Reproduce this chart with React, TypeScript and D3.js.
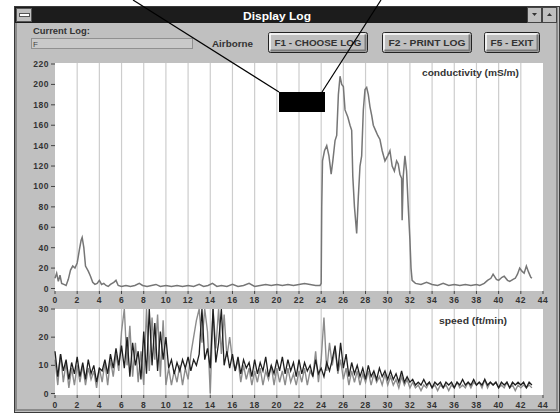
import React from "react";
import * as d3 from "d3";

// conductivity (mS/m) — [log position, value]
const conductivity: [number, number][] = [
  [0, 10], [0.15, 15], [0.3, 7], [0.45, 13], [0.6, 5], [0.8, 4], [1.0, 3], [1.2, 9], [1.4, 18],
  [1.6, 22], [1.8, 20], [2.0, 25], [2.2, 38], [2.35, 47], [2.45, 50], [2.6, 40], [2.75, 22],
  [3.0, 17], [3.2, 12], [3.4, 6], [3.6, 4], [3.8, 5], [4.0, 8], [4.2, 4], [4.4, 5], [4.6, 3],
  [4.8, 2], [5.0, 4], [5.3, 6], [5.5, 8], [5.7, 3], [6.0, 2], [6.4, 3], [6.8, 2], [7.2, 3],
  [7.6, 5], [7.9, 3], [8.3, 2], [8.7, 3], [9.1, 4], [9.5, 2], [10.0, 3], [10.5, 2], [11.0, 3],
  [11.5, 2], [12.0, 3], [12.5, 2], [13.0, 4], [13.4, 2], [13.8, 3], [14.2, 5], [14.6, 2],
  [15.0, 3], [15.5, 2], [16.0, 4], [16.5, 2], [17.0, 3], [17.5, 5], [18.0, 2], [18.5, 3],
  [19.0, 4], [19.5, 3], [20.0, 4], [20.5, 3], [21.0, 4], [21.5, 3], [22.0, 4], [22.5, 5],
  [23.0, 4], [23.5, 3], [23.9, 3], [24.0, 5], [24.05, 80], [24.12, 125], [24.3, 135],
  [24.5, 140], [24.7, 130], [24.9, 112], [25.05, 125], [25.25, 145], [25.4, 150], [25.55, 190],
  [25.7, 208], [25.85, 200], [26.0, 198], [26.15, 175], [26.4, 168], [26.6, 160], [26.75, 155],
  [26.85, 110], [27.0, 80], [27.2, 54], [27.35, 90], [27.5, 120], [27.65, 130], [27.8, 175],
  [27.95, 195], [28.1, 197], [28.25, 190], [28.4, 178], [28.55, 170], [28.7, 160], [28.9, 155],
  [29.1, 150], [29.3, 146], [29.5, 135], [29.75, 125], [30.0, 130], [30.2, 135], [30.4, 120],
  [30.6, 115], [30.8, 125], [30.95, 122], [31.1, 112], [31.25, 108], [31.3, 67], [31.4, 110],
  [31.55, 130], [31.7, 115], [31.85, 80], [32.0, 48], [32.1, 20], [32.2, 8], [32.5, 5],
  [33.0, 4], [33.5, 6], [34.0, 4], [34.5, 3], [35.0, 5], [35.5, 3], [36.0, 4], [36.5, 3],
  [37.0, 4], [37.5, 3], [38.0, 4], [38.3, 3], [38.7, 5], [39.0, 8], [39.3, 10], [39.5, 14],
  [39.8, 9], [40.0, 8], [40.3, 11], [40.5, 12], [40.8, 8], [41.0, 7], [41.3, 9], [41.5, 10],
  [41.7, 14], [41.9, 20], [42.1, 17], [42.3, 15], [42.5, 22], [42.7, 16], [42.9, 11], [43.0, 10],
];

// speed (ft/min), sampled every quarter unit from 0 to 43
const speedStep = 0.25;
const speedGray = [
  12, 3, 14, 4, 11, 2, 9, 3, 10,
  4, 10, 3, 9, 5, 8, 2, 9,
  4, 11, 3, 12, 6, 14, 8, 22,
  30, 10, 24, 6, 18, 4, 15, 3,
  30, 8, 27, 12, 28, 6, 26, 3,
  9, 3, 8, 4, 10, 3, 9, 5,
  14, 20, 26, 30, 18, 30, 22, 0,
  30, 16, 30, 14, 28, 13, 20, 12,
  8, 12, 4, 10, 5, 9, 3, 8,
  4, 9, 3, 8, 5, 10, 3, 9,
  4, 8, 3, 9, 4, 7, 3, 8,
  4, 9, 3, 8, 6, 15, 4, 12,
  27, 8, 18, 10,
  16, 7, 12, 5, 9, 3, 8, 4,
  8, 3, 7, 4, 8, 3, 7, 4, 6, 3, 7, 3,
  6, 3, 5, 2, 6, 3, 5, 2,
  4, 2, 3, 1, 3, 2, 4, 2, 3, 1, 3, 2, 3, 1, 3, 2, 4, 2, 3, 2, 4, 2,
  4, 3, 4, 2, 5, 2, 4, 3, 4, 2, 3, 2, 4, 2, 3, 1, 3, 2, 3, 2, 3, 2,
];
const speedBlack = [
  15, 6, 14, 8, 12, 5, 11, 7, 13,
  6, 11, 5, 12, 7, 10, 4, 9,
  8, 12, 7, 14, 9, 16, 10, 17,
  9, 20, 6, 18, 10, 15, 5, 22,
  7, 30, 10, 25, 8, 22, 12, 20,
  9, 12, 7, 11, 8, 12, 9, 13,
  8, 12, 10, 14, 30, 12, 16, 9,
  30, 11, 18, 30, 10, 15, 9, 14,
  8, 13, 7, 12, 9, 11, 6, 12,
  7, 11, 8, 13, 6, 10, 7, 12,
  8, 13, 7, 12, 8, 11, 6, 12,
  7, 11, 8, 10, 6, 12, 7, 9,
  6, 11, 8, 12,
  17, 8, 18, 9, 14, 6, 11, 7,
  10, 6, 9, 5, 10, 6, 8, 5, 9, 6, 8, 5,
  8, 5, 7, 4, 8, 4, 6, 4,
  5, 3, 4, 3, 5, 3, 4, 2, 4, 3, 4, 2, 4, 3, 4, 2, 4, 3, 5, 3, 4, 3,
  5, 3, 4, 3, 5, 3, 4, 3, 4, 2, 4, 3, 4, 2, 4, 3, 4, 3, 4, 2, 4, 3,
];

const xTicks = [0, 2, 4, 6, 8, 10, 12, 14, 16, 18, 20, 22, 24, 26, 28, 30, 32, 34, 36, 38, 40, 42, 44];
const condTicks = [0, 20, 40, 60, 80, 100, 120, 140, 160, 180, 200, 220];
const speedTicks = [0, 10, 20, 30];

const font = "'Liberation Sans', Arial, sans-serif";
const gray = "#c0c0c0";

function Button({ x, y, w, h, label }: { x: number; y: number; w: number; h: number; label: string }) {
  return (
    <g>
      <rect x={x + 0.5} y={y + 0.5} width={w} height={h} rx={2} fill={gray} stroke="#222" />
      <path d={`M${x + 2},${y + h - 1.5}V${y + 2}H${x + w - 1.5}`} stroke="#fff" fill="none" strokeWidth={1.5} />
      <path d={`M${x + 2.5},${y + h - 1.5}H${x + w - 1.5}V${y + 2.5}`} stroke="#7a7a7a" fill="none" strokeWidth={2} />
      <text x={x + w / 2 + 0.5} y={y + h / 2 + 3.5} textAnchor="middle" fontSize={9} fontWeight="bold"
        textLength={w - 12} lengthAdjust="spacingAndGlyphs" fill="#333">{label}</text>
    </g>
  );
}

export default function App() {
  const x = d3.scaleLinear().domain([0, 44]).range([55, 543]);
  const yTop = d3.scaleLinear().domain([0, 220]).range([288.5, 64]);
  const yBot = d3.scaleLinear().domain([0, 30]).range([393.5, 309]);

  const condLine = d3.line<[number, number]>().x(d => x(d[0])).y(d => yTop(d[1]))(conductivity) || "";
  const speedLine = d3.line<number>().x((d, i) => x(i * speedStep)).y(d => yBot(d));

  const panels = [
    { top: 63, bottom: 291, y: yTop, ticks: condTicks, labelY: 300 },
    { top: 309, bottom: 395, y: yBot, ticks: speedTicks, labelY: 405 },
  ];

  return (
    <svg width={560} height={413} style={{ position: "absolute", left: 0, top: 0, background: "#fff" }} fontFamily={font}>
      {/* window frame */}
      <rect x={14} y={6} width={546} height={407} fill={gray} />
      <rect x={14.5} y={6.5} width={545} height={406} fill="none" stroke="#3a3a3a" />
      <rect x={16} y={8} width={541} height={402} fill="none" stroke="#8a8a8a" strokeWidth={2} />
      {/* title bar */}
      <rect x={15} y={7} width={512} height={16} fill="#1c1c1c" />
      <rect x={16.5} y={8.5} width={15} height={13} fill={gray} stroke="#555" />
      <rect x={19.5} y={13.5} width={10} height={3} fill="#fff" stroke="#555" />
      <text x={277} y={19.5} textAnchor="middle" fill="#fff" fontSize={10} fontWeight="bold"
        textLength={68} lengthAdjust="spacingAndGlyphs">Display Log</text>
      {[527, 542].map((bx, i) => (
        <g key={bx}>
          <rect x={bx + 0.5} y={7.5} width={14} height={15} fill={gray} stroke="#444" />
          <path d={i === 0 ? `M${bx + 5},${13}h5l-2.5,3z` : `M${bx + 5},${16}h5l-2.5,-3z`} fill="#333" />
        </g>
      ))}

      {/* controls row */}
      <text x={33} y={34} fontSize={9} fontWeight="bold" fill="#333" textLength={57} lengthAdjust="spacingAndGlyphs">Current Log:</text>
      <rect x={31.5} y={38.5} width={161} height={10} fill="#c9c9c9" stroke="#909090" />
      <text x={33} y={46.5} fontSize={8} fill="#444">F</text>
      <text x={212} y={47} fontSize={9} fontWeight="bold" fill="#333" textLength={41} lengthAdjust="spacingAndGlyphs">Airborne</text>
      <Button x={268} y={32} w={99} h={20} label="F1 - CHOOSE LOG" />
      <Button x={382} y={32} w={89} h={20} label="F2 - PRINT LOG" />
      <Button x={484} y={32} w={55} h={20} label="F5 - EXIT" />

      {/* chart panels */}
      {panels.map((p, k) => (
        <g key={k}>
          <rect x={55} y={p.top} width={488} height={p.bottom - p.top} fill="#fff" />
          {xTicks.slice(1, -1).map(t => (
            <line key={t} x1={x(t)} x2={x(t)} y1={p.top} y2={p.bottom} stroke="#cdcdcd" strokeWidth={1.2} />
          ))}
          {p.ticks.map(t => (
            <g key={t}>
              <line x1={51} x2={55} y1={p.y(t)} y2={p.y(t)} stroke="#444" />
              <text x={49} y={p.y(t) + 3} textAnchor="end" fontSize={8.5} fontWeight="bold" letterSpacing={0.5} fill="#333">{t}</text>
            </g>
          ))}
          {xTicks.map(t => (
            <g key={t}>
              <line x1={x(t)} x2={x(t)} y1={p.bottom} y2={p.bottom + 3} stroke="#444" />
              <text x={x(t)} y={p.labelY + 3} textAnchor="middle" fontSize={8.5} fontWeight="bold" letterSpacing={0.5} fill="#333">{t}</text>
            </g>
          ))}
        </g>
      ))}

      <path d={condLine} fill="none" stroke="#767676" strokeWidth={1.5} />
      <text x={519} y={76} textAnchor="end" fontSize={9} fontWeight="bold" fill="#333"
        textLength={97} lengthAdjust="spacingAndGlyphs">conductivity (mS/m)</text>

      <path d={speedLine(speedGray) || ""} fill="none" stroke="#8c8c8c" strokeWidth={1.4} />
      <path d={speedLine(speedBlack) || ""} fill="none" stroke="#1e1e1e" strokeWidth={1.3} />
      <text x={507} y={324} textAnchor="end" fontSize={9} fontWeight="bold" fill="#333"
        textLength={68} lengthAdjust="spacingAndGlyphs">speed (ft/min)</text>

      {/* annotation overlay */}
      <line x1={133} y1={0} x2={279} y2={92} stroke="#000" strokeWidth={1.2} />
      <line x1={381} y1={0} x2={322} y2={92} stroke="#000" strokeWidth={1.2} />
      <rect x={279} y={92} width={46} height={20} fill="#000" />
    </svg>
  );
}
